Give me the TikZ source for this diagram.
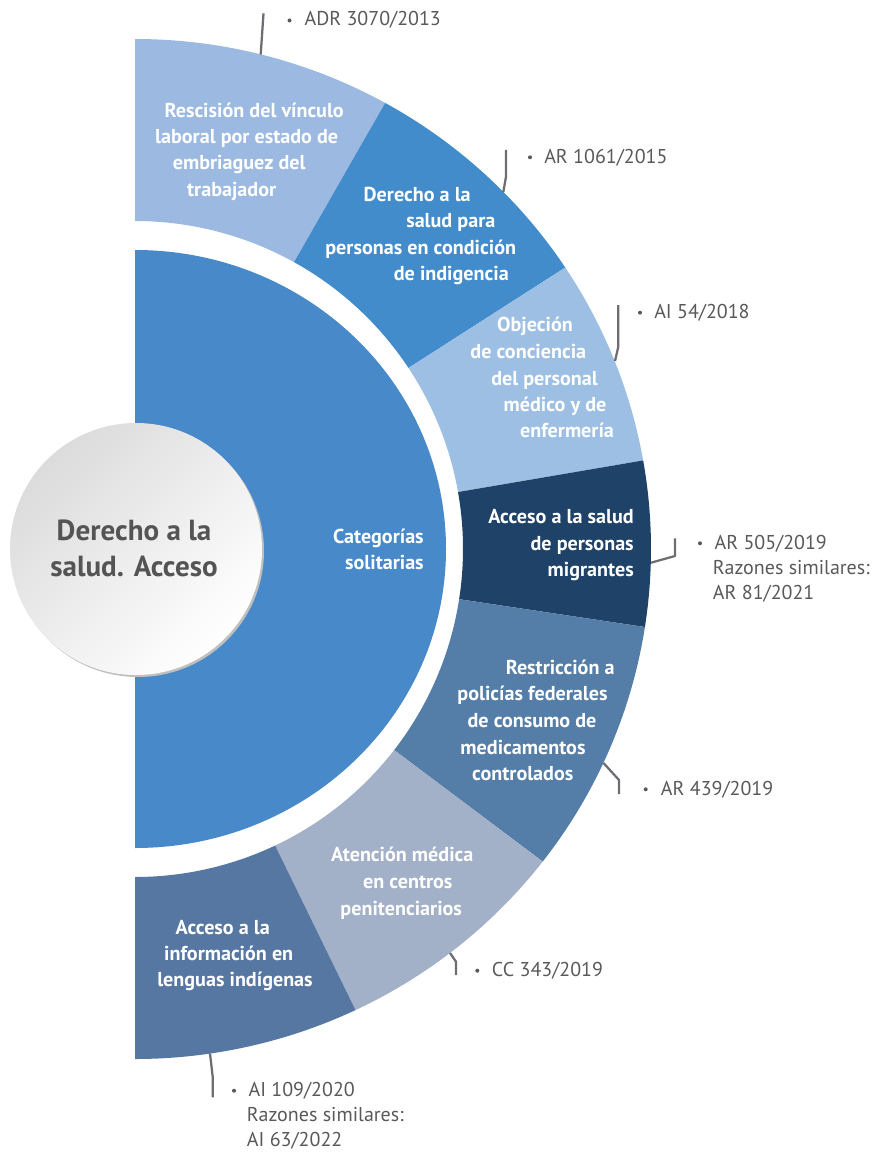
\documentclass[tikz,border=0pt]{standalone}
\usepackage{fontspec}
\setmainfont{PT Sans}
\usetikzlibrary{calc}
\definecolor{cA}{HTML}{9BB9E1}
\definecolor{cB}{HTML}{438CCB}
\definecolor{cC}{HTML}{9DBFE4}
\definecolor{cD}{HTML}{1F4269}
\definecolor{cE}{HTML}{547DA8}
\definecolor{cF}{HTML}{A2B0C8}
\definecolor{cG}{HTML}{5677A2}
\definecolor{cIn}{HTML}{4889CA}
\definecolor{labelgray}{HTML}{58595B}
\definecolor{leadgray}{HTML}{6D6E71}
\definecolor{hubtext}{HTML}{545454}
\newcommand{\ringseg}[3]{%
  \fill[#3] ($(C)+(#1:328)$) -- ($(C)+({516*cos(#1)},{510*sin(#1)})$)
     arc[start angle=#1, end angle=#2, x radius=516, y radius=510]
     -- ($(C)+(#2:328)$) arc[start angle=#2, end angle=#1, radius=328] -- cycle;}
\begin{document}
\begin{tikzpicture}[x=0.75pt,y=0.75pt,
  wt/.style={text=white,font=\bfseries\fontsize{15.1}{18}\selectfont,anchor=base,inner sep=0pt},
  lb/.style={text=labelgray,font=\fontsize{15}{18}\selectfont,anchor=base west,inner sep=0pt},
  leader/.style={draw=leadgray,line width=1.7pt,line join=round},
  dot/.style={circle,fill=labelgray,inner sep=0pt,minimum size=3pt},
  hub/.style={circle,minimum size=189pt,inner sep=0pt},
  hubt/.style={text=hubtext,font=\bfseries\fontsize{21.8}{26}\selectfont,anchor=base,inner sep=0pt}]
\useasboundingbox (0,0) rectangle (877,-1152);
\coordinate (C) at (135,-549);
% ring segments
\ringseg{61}{90}{cA}
\ringseg{33.5}{61}{cB}
\ringseg{10}{33.5}{cC}
\ringseg{-8.8}{10}{cD}
\ringseg{-37.8}{-8.8}{cE}
\ringseg{-64.7}{-37.8}{cF}
\ringseg{-90}{-64.7}{cG}
% inner half ellipse
\fill[cIn] (135,-250) arc[start angle=90, end angle=-90, x radius=311, y radius=299] -- cycle;
% hub
\node[hub,fill=black!25] (hubshadow) at (138,-551) {};
\node[hub,shading=axis,top color=black!14,bottom color=white,shading angle=45] (hub) at (136,-549) {};
\node[hubt] (h1) at (134,-540) {Derecho a la};
\node[hubt] (h2) at (134,-576.7) {salud. Acceso};
% inner text
\node[wt,anchor=base east] (i1) at (424,-543.3) {Categorías};
\node[wt,anchor=base east] (i2) at (424,-569) {solitarias};
% segment 1
\node[wt] (a1) at (254.2,-117.3) {Rescisión del vínculo};
\node[wt] (a2) at (246.7,-144) {laboral por estado de};
\node[wt] (a3) at (239.2,-170) {embriaguez del};
\node[wt] (a4) at (231.7,-196.7) {trabajador};
% segment 2
\node[wt] (b1) at (417.2,-201) {Derecho a la};
\node[wt] (b2) at (450.8,-227.7) {salud para};
\node[wt] (b3) at (420.7,-254) {personas en condición};
\node[wt] (b4) at (451.3,-280.7) {de indigencia};
% segment 3
\node[wt] (c1) at (535,-331.7) {Objeción};
\node[wt] (c2) at (528.3,-358.3) {de conciencia};
\node[wt] (c3) at (544.5,-385) {del personal};
\node[wt] (c4) at (555,-411.7) {médico y de};
\node[wt] (c5) at (567,-437.7) {enfermería};
% segment 4
\node[wt,anchor=base east] (d1) at (634,-523.3) {Acceso a la salud};
\node[wt,anchor=base east] (d2) at (634,-550) {de personas};
\node[wt,anchor=base east] (d3) at (634,-576.7) {migrantes};
% segment 5
\node[wt] (e1) at (560.2,-674) {Restricción a};
\node[wt] (e2) at (532.5,-700) {policías federales};
\node[wt] (e3) at (532,-727.3) {de consumo de};
\node[wt] (e4) at (523,-754) {medicamentos};
\node[wt] (e5) at (522.8,-780) {controlados};
% segment 6
\node[wt] (f1) at (402.3,-861.7) {Atención médica};
\node[wt] (f2) at (407.8,-888.3) {en centros};
\node[wt] (f3) at (401.2,-915) {penitenciarios};
% segment 7
\node[wt] (g1) at (222.8,-934.3) {Acceso a la};
\node[wt] (g2) at (228.7,-960) {información en};
\node[wt] (g3) at (235,-986.7) {lenguas indígenas};
% labels
\node[dot] (pA) at (289.5,-20.5) {};
\node[lb] (lA) at (304.3,-26) {ADR 3070/2013};
\node[dot] (pB) at (530,-157.3) {};
\node[lb] (lB) at (544,-163.3) {AR 1061/2015};
\node[dot] (pC) at (640,-312.7) {};
\node[lb] (lC) at (654,-318.3) {AI 54/2018};
\node[dot] (pD) at (700,-543.3) {};
\node[lb] (lD1) at (714.3,-549) {AR 505/2019};
\node[lb] (lD2) at (712.7,-574) {Razones similares:};
\node[lb] (lD3) at (712.7,-599.3) {AR 81/2021};
\node[dot] (pE) at (645.7,-789.3) {};
\node[lb] (lE) at (660.7,-795) {AR 439/2019};
\node[dot] (pF) at (477.3,-970.7) {};
\node[lb] (lF) at (491.7,-976) {CC 343/2019};
\node[dot] (pG) at (234,-1090.7) {};
\node[lb] (lG1) at (248.3,-1096) {AI 109/2020};
\node[lb] (lG2) at (246.7,-1121.7) {Razones similares:};
\node[lb] (lG3) at (246.7,-1146.7) {AI 63/2022};
% leaders
\coordinate (eA) at (260.7,-54.5);
\coordinate (tA) at (263.5,-13.3);
\draw[leader] (eA) -- (tA);
\coordinate (eB) at (503.3,-192);
\coordinate (kB) at (506,-176.7);
\coordinate (tB) at (506,-150);
\draw[leader] (eB) -- (kB) -- (tB);
\coordinate (eC) at (615,-361);
\coordinate (kC) at (618.3,-346.7);
\coordinate (tC) at (618.3,-305);
\draw[leader] (eC) -- (kC) -- (tC);
\coordinate (eD) at (651,-562.7);
\coordinate (kD) at (675,-556);
\coordinate (tD) at (675,-538.3);
\draw[leader] (eD) -- (kD) -- (tD);
\coordinate (eE) at (603.5,-763);
\coordinate (kE) at (619,-780);
\coordinate (tE) at (619,-794);
\draw[leader] (eE) -- (kE) -- (tE);
\coordinate (eF) at (450,-953);
\coordinate (kF) at (456,-961.7);
\coordinate (tF) at (456,-975);
\draw[leader] (eF) -- (kF) -- (tF);
\coordinate (eG) at (210,-1053.5);
\coordinate (kG) at (212.7,-1076.7);
\coordinate (tG) at (212.7,-1097.3);
\draw[leader] (eG) -- (kG) -- (tG);
\end{tikzpicture}
\end{document}
